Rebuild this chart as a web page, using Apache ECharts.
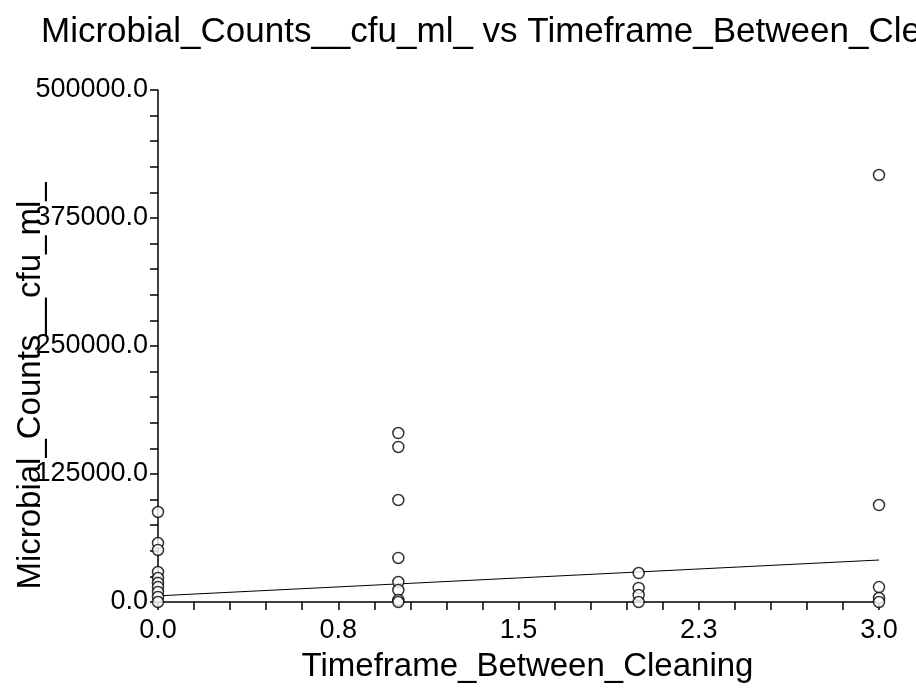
<!DOCTYPE html>
<html>
<head>
<meta charset="utf-8">
<script src="https://cdn.jsdelivr.net/npm/echarts@6/dist/echarts.min.js"></script>
<style>html,body{margin:0;padding:0;background:#fff;}#c{width:916px;height:691px;}</style>
</head>
<body>
<div id="c"></div>
<script>
var titleText = 'Microbial_Counts__cfu_ml_ vs Timeframe_Between_Cleaning';
var xName = 'Timeframe_Between_Cleaning';
var yName = 'Microbial_Counts__cfu_ml_';
var xTickLabels = ['0.0', '0.8', '1.5', '2.3', '3.0'];
var yTickLabels = ['0.0', '125000.0', '250000.0', '375000.0', '500000.0'];
var timeframe = [0, 0, 0, 0, 0, 0, 0, 0, 0, 0,
                 1, 1, 1, 1, 1, 1, 1, 1,
                 2, 2, 2, 2,
                 3, 3, 3, 3, 3];
var counts = [87900, 57600, 50800, 29300, 23400, 18600, 14600, 9800, 4900, 0,
              165000, 151400, 99600, 43000, 19500, 11700, 2000, 0,
              28300, 13700, 6800, 0,
              417000, 94700, 14600, 3900, 0];
var fitX = [0, 3];
var fitY = [6000, 41000];

var points = timeframe.map(function (x, i) { return [x, counts[i]]; });
var fitLine = fitX.map(function (x, i) { return [x, fitY[i]]; });

var chart = echarts.init(document.getElementById('c'), null, {renderer: 'canvas'});
var font = 'Liberation Sans, Arial, sans-serif';
chart.setOption({
  animation: false,
  backgroundColor: '#ffffff',
  title: {
    text: titleText, left: 36, top: 10,
    textStyle: {fontFamily: font, fontSize: 35, fontWeight: 'normal', color: '#000'}
  },
  grid: {left: 158, right: 37, top: 90, bottom: 89, containLabel: false, outerBoundsMode: 'none'},
  xAxis: {
    type: 'value', min: 0, max: 3, interval: 0.75,
    name: xName, nameLocation: 'middle', nameGap: 48, nameMoveOverlap: false,
    nameTextStyle: {fontFamily: font, fontSize: 33, color: '#000', padding: [0, 0, 0, 18]},
    axisLine: {show: true, onZero: false, lineStyle: {color: '#000', width: 1.5}},
    axisTick: {show: true, inside: false, length: 8, lineStyle: {color: '#000', width: 1.5}},
    minorTick: {show: true, splitNumber: 5, length: 8, lineStyle: {color: '#000', width: 1.5}},
    splitLine: {show: false},
    axisLabel: {
      margin: 15, fontFamily: font, fontSize: 27, color: '#000',
      formatter: function (v) { var i = Math.round(v / 0.75); return xTickLabels[i] !== undefined ? xTickLabels[i] : ''; }
    }
  },
  yAxis: {
    type: 'value', min: 0, max: 500000, interval: 125000,
    name: yName, nameLocation: 'middle', nameGap: 111, nameRotate: 90, nameMoveOverlap: false,
    nameTextStyle: {fontFamily: font, fontSize: 33, color: '#000', padding: [0, 80, 0, 0]},
    axisLine: {show: true, onZero: false, lineStyle: {color: '#000', width: 1.5}},
    axisTick: {show: true, inside: false, length: 8, lineStyle: {color: '#000', width: 1.5}},
    minorTick: {show: true, splitNumber: 5, length: 8, lineStyle: {color: '#000', width: 1.5}},
    splitLine: {show: false},
    axisLabel: {
      margin: 10, fontFamily: font, fontSize: 27, color: '#000',
      formatter: function (v) { var i = Math.round(v / 125000); return yTickLabels[i] !== undefined ? yTickLabels[i] : ''; }
    }
  },
  series: [
    {
      type: 'line', data: fitLine, showSymbol: false, symbol: 'none',
      lineStyle: {color: '#000', width: 1}, z: 2
    },
    {
      type: 'scatter', data: points, symbol: 'circle', symbolSize: 11,
      itemStyle: {color: '#ffffff', borderColor: '#000', borderWidth: 1.5}, z: 3
    }
  ]
});
</script>
</body>
</html>
